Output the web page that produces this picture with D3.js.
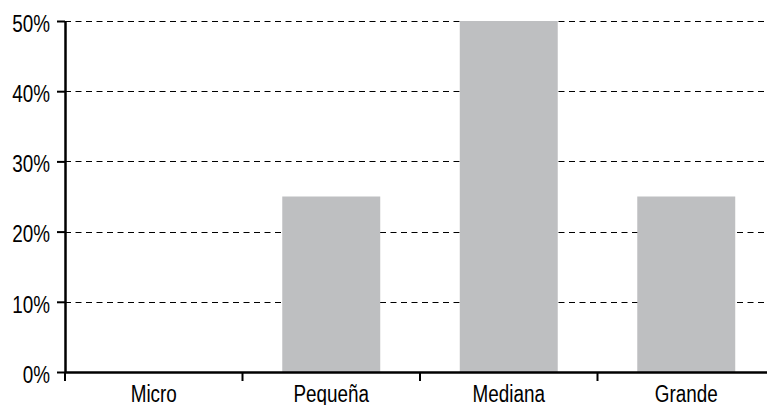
<!DOCTYPE html>
<html>
<head>
<meta charset="utf-8">
<script src="https://cdn.jsdelivr.net/npm/d3@7"></script>
<style>
  body { margin: 0; background: #fff; }
  svg text { font-family: "Liberation Sans", Arial, sans-serif; font-size: 23px; fill: #000; }
</style>
</head>
<body>
<svg id="chart" width="767" height="405"></svg>
<script>
// data
var categories = ["Micro", "Pequeña", "Mediana", "Grande"];
var values = [0, 25, 50, 25];
var yTicks = [0, 10, 20, 30, 40, 50];

var svg = d3.select("#chart"),
    width = +svg.attr("width"),
    height = +svg.attr("height");

var left = 65, axisY = 372, topY = 21;

// the plot runs a little past the right edge of the picture
var xEdge = d3.scaleBand()
    .domain(categories)
    .range([left, 775]);

var x = d3.scaleBand()
    .domain(categories)
    .range([left, 775])
    .paddingInner(0.448)
    .paddingOuter(0.224);

var y = d3.scaleLinear()
    .domain([0, 50])
    .range([axisY, topY]);

// squeeze text horizontally, the source font is a narrow one
function narrow(sel) {
  sel.each(function() {
    var len = this.getComputedTextLength();
    d3.select(this)
      .attr("textLength", len * 0.82)
      .attr("lengthAdjust", "spacingAndGlyphs");
  });
}

// gridlines
svg.append("g")
  .selectAll("line")
  .data(yTicks.filter(function(d) { return d > 0; }))
  .enter().append("line")
    .attr("x1", left)
    .attr("x2", width)
    .attr("y1", function(d) { return Math.round(y(d)) + 0.5; })
    .attr("y2", function(d) { return Math.round(y(d)) + 0.5; })
    .attr("stroke", "#000")
    .attr("stroke-width", 1)
    .attr("stroke-dasharray", "6,4.5");

// bars
svg.append("g")
  .selectAll("rect")
  .data(values)
  .enter().append("rect")
    .attr("x", function(d, i) { return x(categories[i]); })
    .attr("width", x.bandwidth())
    .attr("y", function(d) { return y(d); })
    .attr("height", function(d) { return y(0) - y(d); })
    .attr("fill", "#bebfc1");

// y axis
var gy = svg.append("g")
    .attr("transform", "translate(" + left + ",0)")
    .call(d3.axisLeft(y)
      .tickValues(yTicks)
      .tickFormat(function(d) { return d + "%"; })
      .tickSize(8)
      .tickSizeOuter(0)
      .tickPadding(7));
gy.attr("font-size", null).attr("font-family", null);
gy.select(".domain").attr("stroke-width", 2.5);
gy.selectAll(".tick line").attr("stroke-width", 2);
gy.selectAll(".tick text").attr("dy", "0.45em").call(narrow);

// x axis
var gx = svg.append("g")
    .attr("transform", "translate(0," + axisY + ")")
    .call(d3.axisBottom(xEdge)
      .tickSize(0)
      .tickSizeOuter(0)
      .tickPadding(14));
gx.attr("font-size", null).attr("font-family", null);
gx.select(".domain").attr("stroke-width", 2.5);
gx.selectAll(".tick text").call(narrow);

// category separator ticks
gx.append("g")
  .selectAll("line")
  .data(categories)
  .enter().append("line")
    .attr("x1", function(d) { return xEdge(d); })
    .attr("x2", function(d) { return xEdge(d); })
    .attr("y1", 0)
    .attr("y2", 9)
    .attr("stroke", "#000")
    .attr("stroke-width", 2);
</script>
</body>
</html>
